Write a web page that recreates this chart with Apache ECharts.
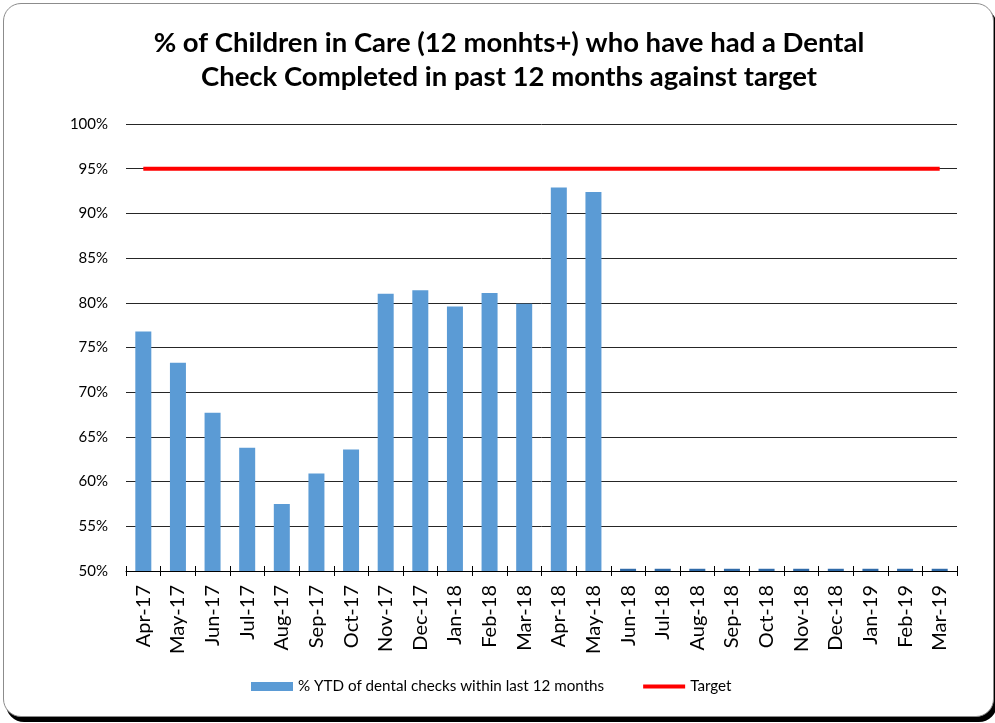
<!DOCTYPE html>
<html>
<head>
<meta charset="utf-8">
<script src="https://cdn.jsdelivr.net/npm/echarts@6/dist/echarts.min.js"></script>
<style>
  body { margin: 0; background: #fff; }
  #frame {
    position: absolute; left: 3px; top: 3px; width: 989px; height: 712px;
    border: 1px solid #8c8c8c; border-radius: 18px; box-shadow: 3px 5px 0 #000;
    background: #fff;
  }
  #main { position: absolute; left: 0; top: 0; width: 995px; height: 723px; }
</style>
</head>
<body>
<div id="frame"></div>
<div id="main"></div>
<script>
const months = ["Apr-17","May-17","Jun-17","Jul-17","Aug-17","Sep-17","Oct-17","Nov-17","Dec-17","Jan-18","Feb-18","Mar-18",
  "Apr-18","May-18","Jun-18","Jul-18","Aug-18","Sep-18","Oct-18","Nov-18","Dec-18","Jan-19","Feb-19","Mar-19"];
// % YTD of dental checks within last 12 months (0 = not yet reported)
const ytdPct = [76.8, 73.3, 67.7, 63.8, 57.5, 60.9, 63.6, 81.0, 81.4, 79.6, 81.1, 79.9,
  92.9, 92.4, 0, 0, 0, 0, 0, 0, 0, 0, 0, 0];
const target = [95, 95, 95, 95, 95, 95, 95, 95, 95, 95, 95, 95,
  95, 95, 95, 95, 95, 95, 95, 95, 95, 95, 95, 95];

const font = "Lato, 'Open Sans', sans-serif";
const axisMin = 50;

var chart = echarts.init(document.getElementById("main"));
var option = {
  textStyle: { fontFamily: font, color: "#000" },
  title: {
    left: 504,
    textAlign: "center",
    top: 21,
    text: "% of Children in Care (12 monhts+) who have had a Dental\nCheck Completed in past 12 months against target",
    textStyle: { fontFamily: font, fontSize: 27.5, fontWeight: "bold", color: "#000", lineHeight: 34 },
  },
  grid: { left: 126, right: 38, top: 124, bottom: 152 },
  legend: {
    left: 246,
    top: 674,
    itemWidth: 42,
    itemHeight: 9,
    itemGap: 37,
    textStyle: { fontFamily: font, fontSize: 15.2, color: "#000" },
    data: [
      { name: "% YTD of dental checks within last 12 months", icon: "rect" },
      { name: "Target", itemStyle: { opacity: 0 }, lineStyle: { color: "#ff0000", width: 4 } },
    ],
  },
  xAxis: [
    {
      type: "category",
      data: months,
      axisLine: { lineStyle: { color: "#000", width: 1 } },
      axisTick: { show: true, interval: 0, length: 5, lineStyle: { color: "#000" } },
      axisLabel: { interval: 0, rotate: 90, fontSize: 20, color: "#000", margin: 14, fontFamily: font },
    },
    {
      type: "category",
      data: months,
      position: "bottom",
      axisLine: { show: false },
      axisTick: { show: true, inside: true, interval: 0, length: 5, lineStyle: { color: "#000" } },
      axisLabel: { show: false },
    },
  ],
  yAxis: {
    type: "value",
    min: axisMin,
    max: 100,
    interval: 5,
    axisLine: { show: false },
    axisTick: { show: false },
    axisLabel: { formatter: "{value}%", fontSize: 15, color: "#000", margin: 18, fontFamily: font },
    splitLine: { lineStyle: { color: "#262626", width: 1 } },
  },
  series: [
    {
      name: "% YTD of dental checks within last 12 months",
      type: "bar",
      barWidth: 16,
      itemStyle: { color: "#5b9bd5" },
      z: 4,
      data: ytdPct.map(function (v) {
        // months with no return sit on the axis floor as a flat dash
        return v > axisMin ? v : { value: axisMin + 0.25, itemStyle: { color: "#2f6aa8" } };
      }),
    },
    {
      name: "Target",
      type: "line",
      symbol: "none",
      lineStyle: { color: "#ff0000", width: 4 },
      itemStyle: { color: "#ff0000" },
      data: target,
      z: 5,
    },
  ],
};
chart.setOption(option);
</script>
</body>
</html>
